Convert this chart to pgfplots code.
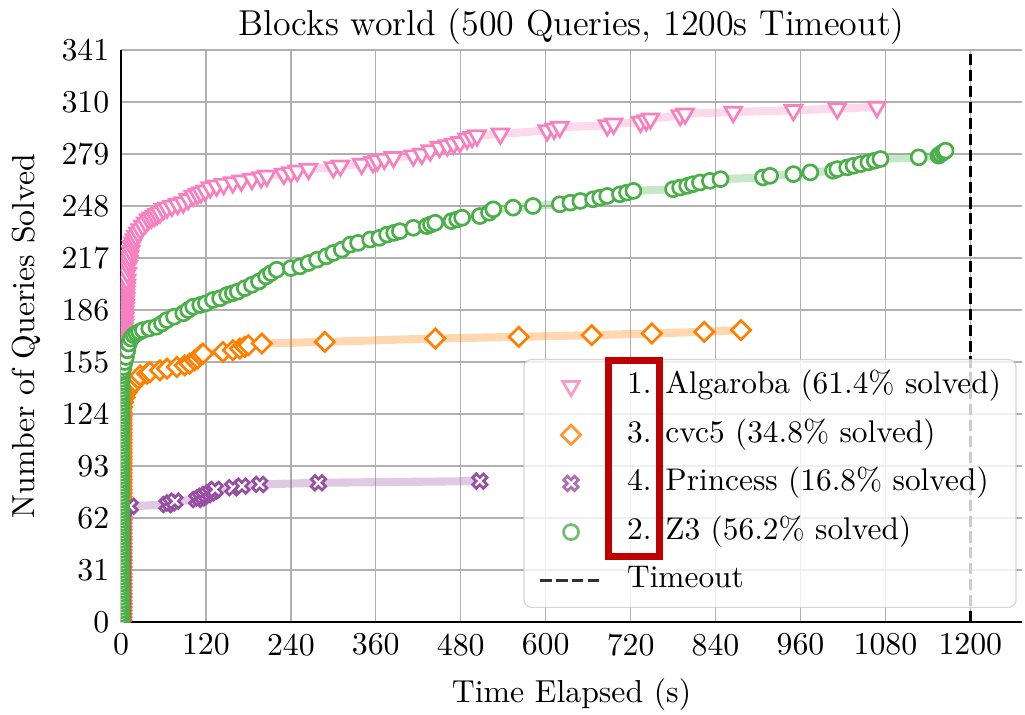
\documentclass[border=0pt]{standalone}
\usepackage{pgfplots}
\usepackage{pgfplotstable}
\pgfplotsset{compat=1.18}

\definecolor{cpink}{HTML}{F781BF}
\definecolor{corange}{HTML}{FF7F00}
\definecolor{cpurple}{HTML}{984EA3}
\definecolor{cgreen}{HTML}{4DAF4A}
\definecolor{cbox}{HTML}{C00000}

% square diamond (matplotlib "D")
\pgfdeclareplotmark{sqdiamond}{%
  \pgfpathmoveto{\pgfqpoint{0pt}{\pgfplotmarksize}}%
  \pgfpathlineto{\pgfqpoint{\pgfplotmarksize}{0pt}}%
  \pgfpathlineto{\pgfqpoint{0pt}{-\pgfplotmarksize}}%
  \pgfpathlineto{\pgfqpoint{-\pgfplotmarksize}{0pt}}%
  \pgfpathclose\pgfusepathqfillstroke}
% thick filled X (matplotlib "X")
\pgfdeclareplotmark{fatx}{%
  \begin{pgfscope}
  \pgftransformrotate{45}%
  \pgfpathmoveto{\pgfqpoint{.36\pgfplotmarksize}{1.06\pgfplotmarksize}}%
  \pgfpathlineto{\pgfqpoint{.36\pgfplotmarksize}{.36\pgfplotmarksize}}%
  \pgfpathlineto{\pgfqpoint{1.06\pgfplotmarksize}{.36\pgfplotmarksize}}%
  \pgfpathlineto{\pgfqpoint{1.06\pgfplotmarksize}{-.36\pgfplotmarksize}}%
  \pgfpathlineto{\pgfqpoint{.36\pgfplotmarksize}{-.36\pgfplotmarksize}}%
  \pgfpathlineto{\pgfqpoint{.36\pgfplotmarksize}{-1.06\pgfplotmarksize}}%
  \pgfpathlineto{\pgfqpoint{-.36\pgfplotmarksize}{-1.06\pgfplotmarksize}}%
  \pgfpathlineto{\pgfqpoint{-.36\pgfplotmarksize}{-.36\pgfplotmarksize}}%
  \pgfpathlineto{\pgfqpoint{-1.06\pgfplotmarksize}{-.36\pgfplotmarksize}}%
  \pgfpathlineto{\pgfqpoint{-1.06\pgfplotmarksize}{.36\pgfplotmarksize}}%
  \pgfpathlineto{\pgfqpoint{-.36\pgfplotmarksize}{.36\pgfplotmarksize}}%
  \pgfpathlineto{\pgfqpoint{-.36\pgfplotmarksize}{1.06\pgfplotmarksize}}%
  \pgfpathclose\pgfusepathqfillstroke
  \end{pgfscope}}

% time (s) vs. cumulative queries solved
\pgfplotstableread[row sep=\\]{
t n\\
1.5 1\\ 1.5 3\\ 1.5 5\\ 1.5 7\\ 1.5 9\\ 1.5 11\\ 1.5 13\\ 1.5 15\\ 1.5 17\\ 1.5 19\\
1.5 21\\ 1.5 23\\ 1.5 25\\ 1.5 27\\ 1.5 29\\ 1.5 31\\ 1.5 33\\ 1.5 35\\ 1.5 37\\ 1.5 39\\
1.5 41\\ 1.5 43\\ 1.5 45\\ 1.5 47\\ 1.5 49\\ 1.5 51\\ 1.5 53\\ 1.5 55\\ 1.5 57\\ 1.5 59\\
1.5 61\\ 1.5 63\\ 1.5 65\\ 1.5 67\\ 1.5 69\\ 1.5 71\\ 1.5 73\\ 1.5 75\\ 1.5 77\\ 1.5 79\\
1.5 81\\ 1.5 83\\ 1.5 85\\ 1.5 87\\ 1.5 89\\ 1.5 91\\ 1.5 93\\ 1.5 95\\ 1.5 97\\ 1.5 99\\
1.5 101\\ 1.5 103\\ 1.5 105\\ 1.5 107\\ 1.5 109\\ 1.5 111\\ 1.5 113\\ 1.5 115\\ 1.5 117\\ 1.5 119\\
1.5 121\\ 1.5 123\\ 1.5 125\\ 1.5 127\\ 1.5 129\\ 1.5 131\\ 1.5 133\\ 1.5 135\\ 1.5 137\\ 1.5 139\\
1.5 141\\ 1.5 143\\ 1.5 145\\ 1.5 147\\ 1.5 149\\
2.0 151\\ 2.2 153\\ 2.4 155\\ 2.6 157\\ 2.8 159\\ 3.0 161\\ 3.2 163\\ 3.4 165\\ 3.6 167\\ 3.8 169\\
4.0 171\\ 4.2 173\\ 4.4 175\\ 4.6 177\\ 4.8 179\\ 5.0 181\\ 5.2 183\\ 5.4 185\\ 5.6 187\\ 5.8 189\\
6.0 191\\ 6.3 193\\ 6.6 195\\ 6.9 197\\ 7.2 199\\ 7.6 201\\ 8.0 204\\ 9 208\\ 10 212\\ 11 215\\
12 218\\ 13.5 221\\ 15 224\\ 17 226\\ 19 228\\ 21 230\\ 24 232\\ 27 234\\ 31 236\\ 35 238\\
39 240\\ 43 241\\ 47 242\\ 51 243\\ 55 244\\ 60 246\\ 65 247\\ 72 248\\ 80 249\\ 88 250\\
95 252\\ 102 254\\ 108 255\\ 113 256\\ 119 257\\ 126 259\\ 135 260\\ 145 261\\ 158 262\\ 170 263\\
185 264\\ 198 265\\ 206 266\\ 230 267\\ 240 268\\ 249 269\\ 265 270\\ 300 271\\ 310 272\\ 340 273\\
356 274\\ 362 275\\ 372 276\\ 385 277\\ 413 278\\ 425 279\\ 437 281\\ 450 283\\ 461 284\\ 470 285\\
479 286\\ 489 288\\ 496 289\\ 503 290\\ 536 291\\ 602 293\\ 612 294\\ 620 295\\ 687 296\\ 696 297\\
734 298\\ 742 299\\ 748 300\\ 790 302\\ 797 303\\ 865 304\\ 950 305\\ 1012 306\\ 1068 307\\
}\algaroba

\pgfplotstableread[row sep=\\]{
t n\\
0.5 1\\ 0.5 3\\ 0.5 5\\ 0.5 7\\ 0.5 9\\ 0.5 11\\ 0.5 13\\ 0.5 15\\ 0.5 17\\ 0.5 19\\
0.5 21\\ 0.5 23\\ 0.5 25\\ 0.5 27\\ 0.5 29\\ 0.5 31\\ 0.5 33\\ 0.5 35\\ 0.5 37\\ 0.5 39\\
0.5 41\\ 0.5 43\\ 0.5 45\\ 0.5 47\\ 0.5 49\\ 0.5 51\\ 0.5 53\\ 0.5 55\\ 0.5 57\\ 0.5 59\\
0.5 61\\ 0.5 63\\ 0.5 65\\ 0.5 67\\ 0.5 69\\ 0.5 71\\ 0.5 73\\ 0.5 75\\ 0.5 77\\ 0.5 79\\
0.5 81\\ 0.5 83\\ 0.5 85\\ 0.5 87\\ 0.5 89\\ 0.5 91\\ 0.5 93\\ 0.5 95\\ 0.5 97\\ 0.5 99\\
0.5 101\\ 0.5 103\\ 0.5 105\\ 0.5 107\\ 0.5 109\\ 0.5 111\\ 0.5 113\\ 0.5 115\\ 0.5 117\\ 0.5 119\\
0.5 121\\ 0.5 123\\ 0.5 125\\
1.5 128\\ 3 131\\ 5 134\\ 8 137\\ 11 139\\ 14 141\\ 17 142\\ 20 143\\ 24 145\\ 27 147\\
37 148\\ 41 149\\ 55 150\\ 65 151\\ 79 152\\ 90 153\\ 97 154\\ 104 156\\ 108 157\\ 112 159\\
116 160\\ 144 161\\ 158 162\\ 168 163\\ 175 164\\ 180 165\\ 199 166\\ 288 167\\ 444 169\\ 562 170\\
665 171\\ 750 172\\ 824 173\\ 876 174\\
}\cvcfive

\pgfplotstableread[row sep=\\]{
t n\\
1.8 1\\ 1.8 3\\ 1.8 5\\ 1.8 7\\ 1.8 9\\ 1.8 11\\ 1.8 13\\ 1.8 15\\ 1.8 17\\ 1.8 19\\
1.8 21\\ 1.8 23\\ 1.8 25\\ 1.8 27\\ 1.8 29\\ 1.8 31\\ 1.8 33\\ 1.8 35\\ 1.8 37\\ 1.8 39\\
1.8 41\\ 1.8 43\\ 1.8 45\\ 1.8 47\\ 1.8 49\\ 1.8 51\\ 1.8 53\\ 1.8 55\\ 1.8 57\\ 1.8 59\\
1.8 61\\ 1.8 63\\
3 66\\ 6 68\\ 13 69\\ 65 70\\ 70 71\\ 76 72\\ 107 73\\ 112 74\\ 116 75\\ 121 76\\
126 77\\ 130 78\\ 133 79\\ 158 80\\ 171 81\\ 196 82\\ 279 83\\ 507 84\\
}\princess

\pgfplotstableread[row sep=\\]{
t n\\
0.4 1\\ 0.4 3\\ 0.4 5\\ 0.4 7\\ 0.4 9\\ 0.4 11\\ 0.4 13\\ 0.4 15\\ 0.4 17\\ 0.4 19\\
0.4 21\\ 0.4 23\\ 0.4 25\\ 0.4 27\\ 0.4 29\\ 0.4 31\\ 0.4 33\\ 0.4 35\\ 0.4 37\\ 0.4 39\\
0.4 41\\ 0.4 43\\ 0.4 45\\ 0.4 47\\ 0.4 49\\ 0.4 51\\ 0.4 53\\ 0.4 55\\ 0.4 57\\ 0.4 59\\
0.4 61\\ 0.4 63\\ 0.4 65\\ 0.4 67\\ 0.4 69\\ 0.4 71\\ 0.4 73\\ 0.4 75\\ 0.4 77\\ 0.4 79\\
0.4 81\\ 0.4 83\\ 0.4 85\\ 0.4 87\\ 0.4 89\\ 0.4 91\\ 0.4 93\\ 0.4 95\\ 0.4 97\\ 0.4 99\\
0.4 101\\ 0.4 103\\ 0.4 105\\ 0.4 107\\ 0.4 109\\ 0.4 111\\ 0.4 113\\ 0.4 115\\ 0.4 117\\ 0.4 119\\
0.4 121\\ 0.6 123\\ 0.6 125\\ 0.6 127\\ 0.6 129\\ 0.6 131\\ 0.6 133\\ 0.6 135\\
1.0 137\\ 1.0 139\\ 1.0 141\\ 1.0 143\\ 1.0 145\\ 1.0 147\\ 1.0 149\\
2 150\\ 3.5 152\\ 5 155\\ 7 158\\ 9 162\\ 11 166\\ 14 169\\ 18 171\\ 22 172\\ 26 173\\
31 174\\ 40 175\\ 50 176\\ 58 178\\ 65 180\\ 75 182\\ 88 184\\ 95 186\\ 102 188\\ 112 189\\
120 190\\ 130 192\\ 140 193\\ 150 195\\ 158 196\\ 165 197\\ 175 199\\ 185 201\\ 195 203\\ 205 206\\
212 208\\ 220 210\\ 240 211\\ 253 212\\ 265 214\\ 277 216\\ 290 218\\ 300 220\\ 312 222\\ 324 225\\
335 226\\ 352 228\\ 365 229\\ 376 231\\ 386 232\\ 394 233\\ 413 235\\ 432 236\\ 438 237\\ 444 238\\
467 239\\ 475 240\\ 482 241\\ 507 242\\ 520 244\\ 526 246\\ 554 247\\ 582 248\\ 620 249\\ 635 250\\
649 251\\ 667 252\\ 677 253\\ 687 254\\ 705 255\\ 715 256\\ 724 257\\ 780 258\\ 790 259\\ 800 260\\
808 261\\ 818 262\\ 832 263\\ 847 264\\ 907 265\\ 917 266\\ 950 267\\ 974 268\\ 1006 269\\ 1012 270\\
1026 271\\ 1035 272\\ 1045 273\\ 1056 274\\ 1065 275\\ 1073 276\\ 1127 277\\ 1155 278\\ 1158 279\\ 1162 280\\
1165 281\\
}\zthree

\begin{document}
\begin{tikzpicture}
\begin{axis}[
  at={(0,0)}, anchor=south west,
  scale only axis,
  width=300.33pt, height=190.67pt,
  xmin=0, xmax=1273, ymin=0, ymax=341,
  xtick={0,120,...,1200},
  ytick={0,31,...,341},
  axis lines=left,
  axis line style={-, line width=0.8pt},
  major tick length=0pt,
  grid=major,
  major grid style={color=black!31, line width=0.45pt},
  clip marker paths=true,
  font=\fontsize{10.6}{12.7}\selectfont,
  /pgf/number format/assume math mode=true,
  /pgf/number format/1000 sep={},
  tick label style={font=\fontsize{10.6}{12.7}\selectfont},
  xticklabel style={anchor=north, inner sep=0pt, yshift=-3.7pt},
  yticklabel style={anchor=east, inner sep=0pt, xshift=-3.7pt},
  title={Blocks world (500 Queries, 1200s Timeout)},
  every axis title shift=0pt,
  title style={at={(axis description cs:0.5,1.026)}, anchor=base, inner sep=0pt,
    font=\fontsize{12}{14}\selectfont},
  xlabel={Time Elapsed (s)},
  xlabel style={at={(axis description cs:0.5,-0.140)}, anchor=base, inner sep=0pt},
  ylabel={Number of Queries Solved},
  ylabel style={at={(axis description cs:-0.0956,0.5)}, anchor=base, inner sep=0pt},
  legend cell align=left,
  legend image code/.code={\draw[mark repeat=2,mark phase=2,#1]
    plot coordinates {(0pt,0pt) (10.2pt,0pt) (20.4pt,0pt)};},
  legend style={at={(rel axis cs:0.994,0.0245)}, anchor=south east,
    draw=black!20, rounded corners=2.5pt, fill=white, fill opacity=0.8,
    draw opacity=0.8, text opacity=1,
    font=\fontsize{10.45}{12.6}\selectfont,
    inner xsep=5pt, inner ysep=3.9pt, row sep=6.2pt, column sep=8pt,
    nodes={inner sep=0pt, text height=7.4pt, text depth=2.6pt}},
]
% Algaroba
\addplot[forget plot, cpink, opacity=0.3, line width=2.7pt, line join=round] table[x=t,y=n] {\algaroba};
\addplot[only marks, mark=triangle*, mark size=3.2pt,
  mark options={rotate=180, draw=cpink, fill=white, line width=0.9pt}] table[x=t,y=n] {\algaroba};
\addlegendentry{1. Algaroba (61.4\% solved)}
% cvc5
\addplot[forget plot, corange, opacity=0.3, line width=2.7pt, line join=round] table[x=t,y=n] {\cvcfive};
\addplot[only marks, mark=sqdiamond, mark size=3.2pt,
  mark options={draw=corange, fill=white, line width=0.9pt}] table[x=t,y=n] {\cvcfive};
\addlegendentry{3. cvc5 (34.8\% solved)}
% Princess
\addplot[forget plot, cpurple, opacity=0.3, line width=2.7pt, line join=round] table[x=t,y=n] {\princess};
\addplot[only marks, mark=fatx, mark size=2.4pt,
  mark options={draw=cpurple, fill=white, line width=0.9pt}] table[x=t,y=n] {\princess};
\addlegendentry{4. Princess (16.8\% solved)}
% Z3
\addplot[forget plot, cgreen, opacity=0.3, line width=2.7pt, line join=round] table[x=t,y=n] {\zthree};
\addplot[only marks, mark=*, mark size=2.5pt,
  mark options={draw=cgreen, fill=white, line width=0.9pt}] table[x=t,y=n] {\zthree};
\addlegendentry{2. Z3 (56.2\% solved)}
% timeout
\addplot[black, line width=1pt, dash pattern=on 3.7pt off 1.6pt] coordinates {(1200,0) (1200,341)};
\addlegendentry{Timeout}
\coordinate (ra) at (rel axis cs:0.5411,0.1145);
\coordinate (rb) at (rel axis cs:0.5977,0.4572);
\end{axis}
\draw[cbox, line width=2.4pt] (ra) rectangle (rb);
\pgfresetboundingbox
\path (-40.33pt,-30.67pt) rectangle (301.33pt,207.33pt);
\end{tikzpicture}
\end{document}
